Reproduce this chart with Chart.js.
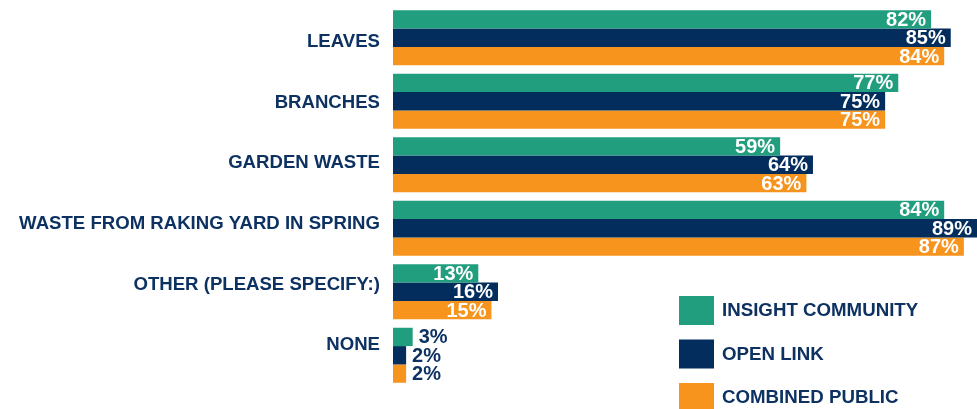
<!DOCTYPE html>
<html>
<head>
<meta charset="utf-8">
<script src="https://cdn.jsdelivr.net/npm/chart.js@4.4.1/dist/chart.umd.min.js"></script>
<style>
html,body{margin:0;padding:0;background:#fff;}
#wrap{width:977px;height:409px;position:relative;}
</style>
</head>
<body>
<div id="wrap"><canvas id="c"></canvas></div>
<script>
const categories = ["LEAVES","BRANCHES","GARDEN WASTE","WASTE FROM RAKING YARD IN SPRING","OTHER (PLEASE SPECIFY:)","NONE"];
const seriesNames = ["INSIGHT COMMUNITY","OPEN LINK","COMBINED PUBLIC"];
const insightCommunity = [82,77,59,84,13,3];
const openLink = [85,75,64,89,16,2];
const combinedPublic = [84,75,63,87,15,2];
const colors = ["#219e7e","#022d5c","#f7941d"];
const textNavy = "#0d3262";

const labelPlugin = {
  id: 'barLabels',
  afterDatasetsDraw(chart) {
    const ctx = chart.ctx;
    ctx.save();
    ctx.font = 'bold 20px "Liberation Sans", Arial, sans-serif';
    ctx.textBaseline = 'middle';
    chart.data.datasets.forEach((ds, di) => {
      const meta = chart.getDatasetMeta(di);
      meta.data.forEach((bar, i) => {
        const v = ds.data[i];
        const txt = v + '%';
        if (v < 10) {
          ctx.fillStyle = textNavy;
          ctx.textAlign = 'left';
          ctx.fillText(txt, bar.x + 6, bar.y + 1);
        } else {
          ctx.fillStyle = '#ffffff';
          ctx.textAlign = 'right';
          ctx.fillText(txt, bar.x - 5, bar.y + 1);
        }
      });
    });
    ctx.restore();
  }
};

const legendPlugin = {
  id: 'customLegend',
  afterDraw(chart) {
    const ctx = chart.ctx;
    ctx.save();
    ctx.font = 'bold 18.7px "Liberation Sans", Arial, sans-serif';
    ctx.textBaseline = 'middle';
    ctx.textAlign = 'left';
    chart.data.datasets.forEach((ds, i) => {
      const y = 296 + i * 43.5;
      ctx.fillStyle = ds.backgroundColor;
      ctx.fillRect(679, y, 35, 29);
      ctx.fillStyle = textNavy;
      ctx.fillText(ds.label, 722, y + 15);
    });
    ctx.restore();
  }
};

new Chart(document.getElementById('c'), {
  type: 'bar',
  data: {
    labels: categories,
    datasets: [
      {label: seriesNames[0], data: insightCommunity, backgroundColor: colors[0]},
      {label: seriesNames[1], data: openLink, backgroundColor: colors[1]},
      {label: seriesNames[2], data: combinedPublic, backgroundColor: colors[2]}
    ]
  },
  options: {
    indexAxis: 'y',
    responsive: true,
    maintainAspectRatio: false,
    animation: false,
    layout: {padding: {top: 6, bottom: 22, left: 0, right: 0}},
    datasets: {bar: {categoryPercentage: 0.866, barPercentage: 1.0, borderWidth: 0}},
    scales: {
      x: {display: false, min: 0, max: 89},
      y: {display: false},
      yLabels: {
        type: 'linear',
        position: 'left',
        reverse: true,
        offset: false,
        min: -0.5935,
        max: 5.688,
        grid: {display: false, drawTicks: false},
        border: {display: false},
        afterBuildTicks(scale) { scale.ticks = categories.map((_, i) => ({value: i})); },
        ticks: {
          autoSkip: false,
          color: textNavy,
          padding: 13,
          callback: (v) => categories[Math.round(v)],
          font: {family: '"Liberation Sans", Arial, sans-serif', size: 18.6, weight: 'bold'}
        },
        afterFit(scale) { scale.width = 393; scale.paddingTop = 0; scale.paddingBottom = 0; }
      }
    },
    plugins: {legend: {display: false}, tooltip: {enabled: false}}
  },
  plugins: [labelPlugin, legendPlugin]
});
</script>
</body>
</html>
